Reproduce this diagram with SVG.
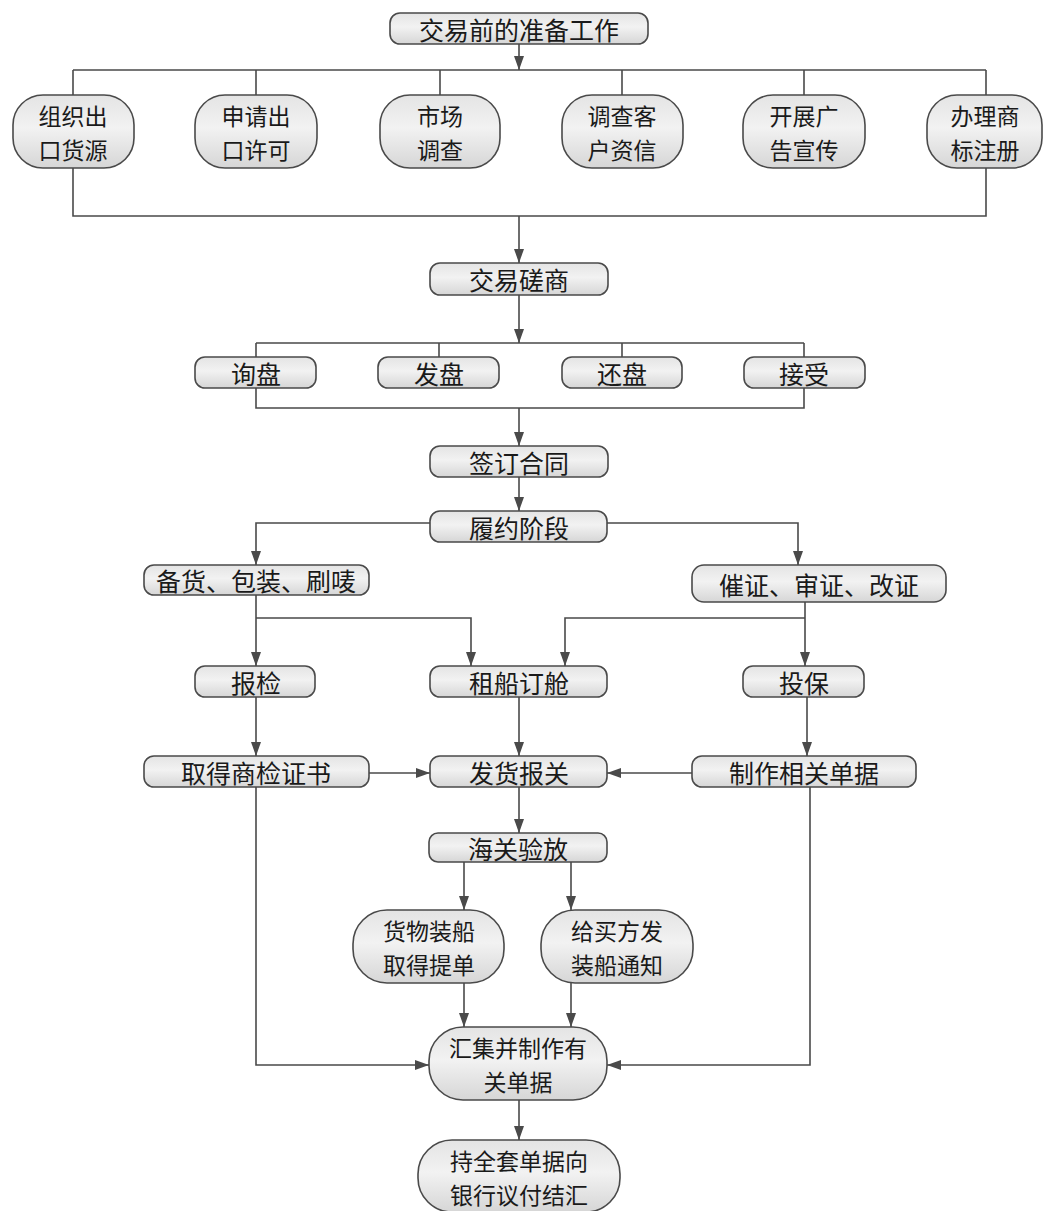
<svg xmlns="http://www.w3.org/2000/svg" width="1045" height="1211" viewBox="0 0 1045 1211">
<style>
.box{fill:url(#g);stroke:#4a4a4a;stroke-width:1.6}
.t{font-family:"Noto Sans CJK SC","Noto Sans CJK TC",sans-serif;font-size:25px;fill:#1a1a1a;text-anchor:middle;dominant-baseline:central}
.m{font-size:23px}
.c{fill:none;stroke:#4a4a4a;stroke-width:1.6}
.a{marker-end:url(#ah)}
</style>
<defs>
<linearGradient id="g" x1="0" y1="0" x2="0" y2="1">
<stop offset="0" stop-color="#e4e4e4"/>
<stop offset="0.45" stop-color="#f2f2f2"/>
<stop offset="1" stop-color="#d6d6d6"/>
</linearGradient>
<marker id="ah" markerWidth="14" markerHeight="10" refX="14" refY="5" orient="auto" markerUnits="userSpaceOnUse">
<path d="M0,0 L14,5 L0,10 z" fill="#4a4a4a"/>
</marker>
</defs>
<rect width="1045" height="1211" fill="#ffffff"/>
<g id="connectors">
<path class="c a" d="M519,44 V70"/>
<path class="c" d="M73,70 H986 M73,70 V95 M256,70 V95 M440,70 V95 M622,70 V95 M804,70 V95 M986,70 V95"/>
<path class="c" d="M73,168 V216 H986 V168"/>
<path class="c a" d="M519,216 V263"/>
<path class="c a" d="M519,295 V343"/>
<path class="c" d="M256,343 H804 M256,343 V357 M439,343 V357 M622,343 V357 M804,343 V357"/>
<path class="c" d="M256,388 V408 H804 V388"/>
<path class="c a" d="M519,408 V446"/>
<path class="c a" d="M519,477 V511"/>
<path class="c a" d="M430,523 H256 V565"/>
<path class="c a" d="M607,523 H798 V565"/>
<path class="c a" d="M256,595 V666"/>
<path class="c a" d="M256,618 H471 V666"/>
<path class="c a" d="M805,602 V666"/>
<path class="c a" d="M805,618 H565 V666"/>
<path class="c a" d="M256,697 V756"/>
<path class="c a" d="M519,697 V756"/>
<path class="c a" d="M807,697 V756"/>
<path class="c a" d="M369,773 H430"/>
<path class="c a" d="M692,773 H607"/>
<path class="c a" d="M519,787 V833"/>
<path class="c a" d="M464,862 V910"/>
<path class="c a" d="M571,862 V910"/>
<path class="c a" d="M464,983 V1027"/>
<path class="c a" d="M571,983 V1027"/>
<path class="c a" d="M256,787 V1065 H429"/>
<path class="c a" d="M810,787 V1065 H607"/>
<path class="c a" d="M519,1100 V1140"/>
</g>
<g id="n_prep"><rect class="box" x="390" y="13" width="258" height="31" rx="10"/><text class="t" x="519" y="29">交易前的准备工作</text></g>
<g id="n_source"><rect class="box" x="13" y="95" width="121" height="73" rx="30"/><text class="t m"><tspan x="73" y="114.5">组织出</tspan><tspan x="73" y="148.5">口货源</tspan></text></g>
<g id="n_license"><rect class="box" x="195" y="95" width="122" height="73" rx="30"/><text class="t m"><tspan x="256" y="114.5">申请出</tspan><tspan x="256" y="148.5">口许可</tspan></text></g>
<g id="n_market"><rect class="box" x="380" y="95" width="120" height="73" rx="30"/><text class="t m"><tspan x="440" y="114.5">市场</tspan><tspan x="440" y="148.5">调查</tspan></text></g>
<g id="n_credit"><rect class="box" x="562" y="95" width="121" height="73" rx="30"/><text class="t m"><tspan x="622" y="114.5">调查客</tspan><tspan x="622" y="148.5">户资信</tspan></text></g>
<g id="n_ads"><rect class="box" x="743" y="95" width="122" height="73" rx="30"/><text class="t m"><tspan x="804" y="114.5">开展广</tspan><tspan x="804" y="148.5">告宣传</tspan></text></g>
<g id="n_trademark"><rect class="box" x="927" y="95" width="115" height="73" rx="30"/><text class="t m"><tspan x="985" y="114.5">办理商</tspan><tspan x="985" y="148.5">标注册</tspan></text></g>
<g id="n_negotiate"><rect class="box" x="430" y="263" width="178" height="32" rx="10"/><text class="t" x="519" y="279">交易磋商</text></g>
<g id="n_inquiry"><rect class="box" x="195" y="357" width="121" height="31" rx="10"/><text class="t" x="256" y="373">询盘</text></g>
<g id="n_offer"><rect class="box" x="378" y="357" width="121" height="31" rx="10"/><text class="t" x="439" y="373">发盘</text></g>
<g id="n_counter"><rect class="box" x="562" y="357" width="120" height="31" rx="10"/><text class="t" x="622" y="373">还盘</text></g>
<g id="n_accept"><rect class="box" x="744" y="357" width="121" height="31" rx="10"/><text class="t" x="804" y="373">接受</text></g>
<g id="n_contract"><rect class="box" x="430" y="446" width="178" height="31" rx="10"/><text class="t" x="519" y="462">签订合同</text></g>
<g id="n_perform"><rect class="box" x="430" y="511" width="177" height="31" rx="10"/><text class="t" x="519" y="527">履约阶段</text></g>
<g id="n_goods"><rect class="box" x="144" y="565" width="225" height="30" rx="10"/><text class="t" x="256" y="580">备货、包装、刷唛</text></g>
<g id="n_lc"><rect class="box" x="692" y="565" width="254" height="37" rx="12"/><text class="t" x="819" y="584">催证、审证、改证</text></g>
<g id="n_inspect"><rect class="box" x="195" y="666" width="120" height="31" rx="10"/><text class="t" x="256" y="682">报检</text></g>
<g id="n_ship"><rect class="box" x="430" y="666" width="177" height="31" rx="10"/><text class="t" x="519" y="682">租船订舱</text></g>
<g id="n_insure"><rect class="box" x="743" y="666" width="121" height="31" rx="10"/><text class="t" x="804" y="682">投保</text></g>
<g id="n_cert"><rect class="box" x="144" y="756" width="225" height="31" rx="10"/><text class="t" x="256" y="772">取得商检证书</text></g>
<g id="n_declare"><rect class="box" x="430" y="756" width="177" height="31" rx="10"/><text class="t" x="519" y="772">发货报关</text></g>
<g id="n_docs"><rect class="box" x="692" y="756" width="224" height="31" rx="10"/><text class="t" x="804" y="772">制作相关单据</text></g>
<g id="n_customs"><rect class="box" x="429" y="833" width="178" height="29" rx="9"/><text class="t" x="518" y="848">海关验放</text></g>
<g id="n_load"><rect class="box" x="353" y="910" width="151" height="73" rx="34"/><text class="t m"><tspan x="429" y="929.5">货物装船</tspan><tspan x="429" y="963.5">取得提单</tspan></text></g>
<g id="n_notify"><rect class="box" x="541" y="910" width="152" height="73" rx="34"/><text class="t m"><tspan x="617" y="929.5">给买方发</tspan><tspan x="617" y="963.5">装船通知</tspan></text></g>
<g id="n_collect"><rect class="box" x="429" y="1027" width="178" height="73" rx="34"/><text class="t m"><tspan x="518" y="1046.5">汇集并制作有</tspan><tspan x="518" y="1080.5">关单据</tspan></text></g>
<g id="n_bank"><rect class="box" x="418" y="1140" width="202" height="72" rx="34"/><text class="t m"><tspan x="519" y="1160">持全套单据向</tspan><tspan x="519" y="1194">银行议付结汇</tspan></text></g>
</svg>
